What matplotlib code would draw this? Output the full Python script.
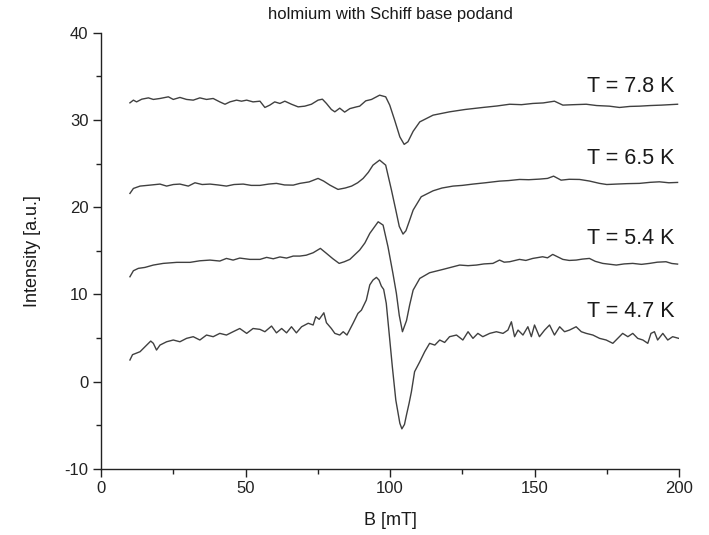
import matplotlib
matplotlib.use("Agg")
import matplotlib.pyplot as plt
from matplotlib.ticker import MultipleLocator

plt.rcParams['font.family'] = ['Liberation Sans', 'DejaVu Sans']
plt.rcParams['axes.unicode_minus'] = False

# EPR traces: (B [mT], intensity [a.u.])
t_78 = [(10.0, 31.96), (11.2, 32.27), (12.3, 32.07), (14.1, 32.38), (16.4, 32.53), (18.1, 32.35),
        (20.4, 32.46), (23.3, 32.65), (25.0, 32.35), (27.3, 32.58), (29.6, 32.35), (31.9, 32.27),
        (34.2, 32.53), (36.5, 32.35), (38.8, 32.46), (41.1, 32.07), (42.9, 31.8), (44.6, 32.07),
        (46.9, 32.27), (48.6, 32.15), (50.4, 32.27), (52.6, 32.07), (55.0, 32.15), (56.7, 31.43),
        (58.4, 31.7), (60.1, 32.07), (61.9, 31.89), (63.6, 32.15), (65.9, 31.8), (68.2, 31.5),
        (70.5, 31.58), (72.8, 31.8), (75.1, 32.27), (76.6, 32.38), (78.0, 31.89), (79.7, 31.2),
        (80.9, 30.93), (82.6, 31.35), (84.3, 30.9), (86.1, 31.3), (88.4, 31.5), (89.5, 31.58),
        (91.6, 32.19), (93.6, 32.35), (96.4, 32.84), (98.5, 32.65), (99.9, 31.7), (101.6, 29.98),
        (103.4, 28.06), (104.9, 27.2), (106.2, 27.5), (108.0, 28.7), (110.3, 29.78), (114.9, 30.55),
        (120.6, 30.93), (126.0, 31.2), (132.1, 31.43), (137.0, 31.6), (141.4, 31.8), (145.5, 31.75),
        (149.4, 31.89), (153.0, 31.95), (156.9, 32.15), (159.8, 31.7), (163.5, 31.75), (167.9, 31.8),
        (171.5, 31.65), (175.9, 31.58), (179.4, 31.43), (183.0, 31.55), (186.3, 31.58), (190.0, 31.65),
        (194.0, 31.7), (199.5, 31.8)]

t_65 = [(10.0, 21.58), (11.2, 22.15), (13.5, 22.42), (16.9, 22.53), (20.4, 22.65), (22.7, 22.42),
        (25.0, 22.6), (27.3, 22.65), (30.2, 22.42), (32.5, 22.8), (35.0, 22.6), (37.7, 22.65),
        (40.5, 22.55), (43.4, 22.42), (46.0, 22.6), (49.2, 22.65), (52.0, 22.5), (55.0, 22.5),
        (58.0, 22.65), (60.7, 22.73), (63.5, 22.55), (66.5, 22.53), (68.8, 22.73), (72.0, 22.9),
        (75.1, 23.3), (77.0, 23.0), (79.2, 22.53), (82.0, 22.04), (84.5, 22.2), (86.7, 22.42),
        (88.8, 22.8), (90.7, 23.3), (92.5, 24.0), (94.1, 24.82), (96.4, 25.4), (98.5, 24.82),
        (100.5, 21.96), (102.0, 19.67), (103.2, 17.8), (104.5, 16.92), (105.5, 17.3), (106.6, 18.33),
        (108.0, 19.67), (110.8, 21.2), (114.9, 21.88), (118.0, 22.2), (121.8, 22.42), (125.0, 22.5),
        (128.7, 22.65), (133.0, 22.8), (137.9, 22.99), (141.0, 23.05), (144.8, 23.18), (148.0, 23.15),
        (151.7, 23.22), (154.5, 23.3), (156.6, 23.56), (159.2, 23.1), (162.0, 23.2), (165.6, 23.18),
        (169.0, 23.0), (172.5, 22.73), (175.0, 22.6), (178.3, 22.65), (182.0, 22.7), (186.3, 22.73),
        (190.0, 22.85), (193.2, 22.91), (196.5, 22.8), (199.5, 22.84)]

t_54 = [(10.0, 12.03), (11.2, 12.72), (12.9, 12.99), (15.2, 13.1), (18.1, 13.37), (21.5, 13.56),
        (26.2, 13.68), (30.8, 13.68), (34.2, 13.86), (37.7, 13.94), (41.1, 13.83), (43.4, 14.13),
        (45.7, 13.94), (48.0, 14.17), (51.5, 14.02), (55.0, 14.02), (57.3, 14.25), (59.6, 14.09),
        (61.9, 14.3), (64.2, 14.17), (66.5, 14.4), (68.8, 14.4), (71.0, 14.5), (73.4, 14.78),
        (75.9, 15.28), (78.0, 14.71), (80.2, 14.1), (82.4, 13.56), (84.2, 13.75), (86.1, 14.02),
        (89.5, 15.09), (91.3, 15.9), (93.0, 17.0), (95.9, 18.33), (97.6, 17.95), (99.3, 15.46),
        (101.0, 12.42), (102.2, 10.13), (103.2, 7.6), (104.3, 5.73), (105.7, 7.0), (106.8, 8.8),
        (108.0, 10.5), (110.3, 11.84), (113.7, 12.49), (118.3, 12.87), (124.1, 13.37), (127.0, 13.3),
        (129.9, 13.37), (132.5, 13.5), (135.6, 13.56), (137.9, 13.94), (139.5, 13.7), (141.4, 13.75),
        (144.8, 14.02), (147.0, 13.9), (149.4, 14.13), (152.8, 14.32), (154.5, 14.2), (156.3, 14.59),
        (159.8, 14.02), (162.0, 13.9), (164.4, 13.94), (166.5, 14.05), (169.0, 14.13), (171.0, 13.8),
        (173.6, 13.56), (178.3, 13.37), (181.0, 13.5), (184.0, 13.56), (187.0, 13.45), (189.8, 13.56),
        (192.5, 13.7), (195.5, 13.75), (197.5, 13.55), (199.5, 13.48)]

t_47 = [(10.0, 2.49), (10.9, 3.1), (13.5, 3.44), (15.8, 4.2), (17.2, 4.66), (18.1, 4.4), (19.2, 3.63),
        (20.4, 4.2), (22.7, 4.58), (25.0, 4.78), (27.3, 4.58), (29.6, 4.97), (31.9, 5.16), (34.2, 4.78),
        (36.5, 5.35), (38.8, 5.16), (41.1, 5.54), (43.4, 5.35), (45.7, 5.73), (48.0, 6.1), (50.4, 5.54),
        (52.6, 6.1), (55.0, 6.0), (56.7, 5.73), (59.0, 6.38), (60.7, 5.6), (62.5, 6.1), (64.2, 5.6),
        (65.9, 6.3), (67.6, 5.6), (69.4, 6.3), (71.7, 6.7), (73.4, 6.5), (74.3, 7.45), (75.5, 7.15),
        (77.1, 7.9), (78.0, 6.76), (79.7, 6.1), (80.9, 5.54), (82.6, 5.35), (83.8, 5.73), (85.1, 5.35),
        (87.2, 6.69), (88.9, 7.83), (90.1, 8.2), (91.8, 9.36), (93.0, 11.1), (94.1, 11.65),
        (95.3, 11.96), (96.2, 11.65), (97.0, 10.96), (97.8, 10.58), (98.7, 8.98), (99.7, 5.54),
        (100.8, 1.72), (102.0, -2.1), (103.4, -4.76), (104.1, -5.4), (105.0, -4.9), (105.7, -3.8),
        (106.6, -2.47), (107.4, -1.15), (108.5, 1.15), (110.3, 2.29), (112.0, 3.44), (113.7, 4.4),
        (115.5, 4.2), (117.2, 4.78), (118.9, 4.5), (120.6, 5.16), (123.0, 5.35), (125.2, 4.78),
        (127.0, 5.73), (128.7, 4.97), (130.4, 5.54), (132.1, 5.16), (134.5, 5.54), (136.8, 5.73),
        (139.1, 5.54), (140.8, 5.92), (142.0, 6.87), (143.1, 5.16), (144.3, 5.92), (146.0, 5.35),
        (147.7, 6.3), (148.9, 5.16), (150.0, 6.5), (151.7, 5.16), (153.5, 5.92), (155.2, 6.5),
        (156.9, 5.35), (158.7, 6.3), (160.4, 5.73), (162.1, 5.92), (164.4, 6.3), (166.2, 5.73),
        (167.9, 5.54), (170.2, 5.35), (172.5, 4.97), (174.8, 4.78), (177.1, 4.4), (178.8, 4.97),
        (180.5, 5.54), (182.3, 5.16), (184.0, 5.54), (185.7, 4.97), (187.5, 4.78), (189.2, 4.4),
        (190.3, 5.54), (191.5, 5.73), (192.6, 4.78), (194.4, 5.54), (196.1, 4.78), (197.8, 5.16),
        (199.9, 4.97)]

traces = [t_78, t_65, t_54, t_47]
labels = ["T = 7.8 K", "T = 6.5 K", "T = 5.4 K", "T = 4.7 K"]
label_y = [33.2, 24.9, 15.8, 7.45]

fig = plt.figure(figsize=(7.09, 5.35), dpi=100)
ax = fig.add_axes([0.1425, 0.1234, 0.8152, 0.8155])

for tr in traces:
    x, y = zip(*tr)
    ax.plot(x, y, color='#404040', lw=1.0)

for lab, ly in zip(labels, label_y):
    ax.text(198.4, ly, lab, ha='right', va='baseline', fontsize=15.5, color='#1a1a1a')

ax.set_xlim(0, 200)
ax.set_ylim(-10, 40)
ax.xaxis.set_major_locator(MultipleLocator(50))
ax.xaxis.set_minor_locator(MultipleLocator(25))
ax.yaxis.set_major_locator(MultipleLocator(10))
ax.yaxis.set_minor_locator(MultipleLocator(5))

for s in ['top', 'right']:
    ax.spines[s].set_visible(False)
for s in ['left', 'bottom']:
    ax.spines[s].set_linewidth(1.0)
    ax.spines[s].set_color('#222222')

ax.tick_params(which='major', direction='out', length=6, width=1.0, labelsize=12,
               colors='#222222', pad=3)
ax.tick_params(which='minor', direction='out', length=3.5, width=1.0, colors='#222222')

ax.set_xlabel("B [mT]", fontsize=13, color='#1a1a1a', labelpad=11)
ax.set_ylabel("Intensity [a.u.]", fontsize=13, color='#1a1a1a', labelpad=17)
ax.set_title("holmium with Schiff base podand", fontsize=12, color='#1a1a1a', pad=10)

fig.savefig("out.png", dpi=100)
